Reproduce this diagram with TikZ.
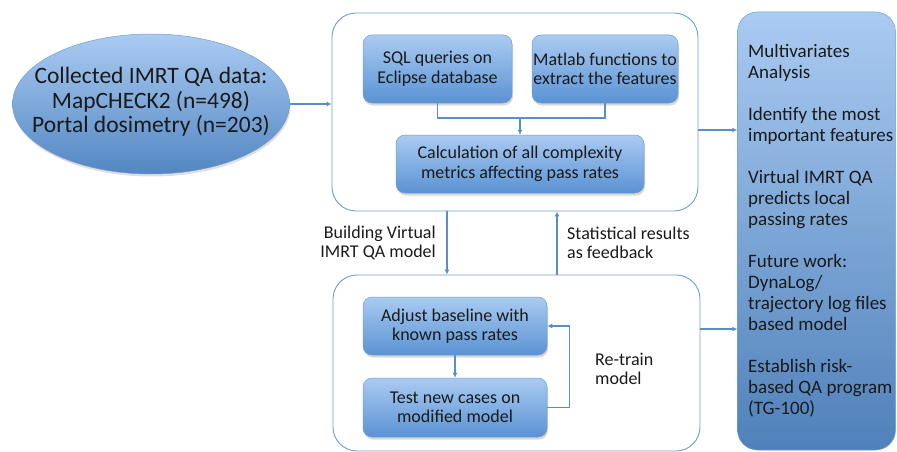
\documentclass[tikz,border=0pt]{standalone}
\usepackage{fontspec}
\setmainfont{Carlito}
\usetikzlibrary{shadows,arrows.meta,shapes.geometric}
\definecolor{bluetop}{HTML}{AACBF2}
\definecolor{bluebot}{HTML}{5A92D3}
\definecolor{edgeblue}{HTML}{6F9FD2}
\definecolor{arrblue}{HTML}{5B8DC8}
\definecolor{txt}{HTML}{1A1A1A}
\tikzset{
  blubox/.style={rounded corners=9pt, top color=bluetop, bottom color=bluebot, draw=edgeblue, line width=0.5pt,
    drop shadow={opacity=0.3, shadow xshift=1pt, shadow yshift=-2.5pt}, align=center,
    font=\fontsize{18}{19.5}\selectfont, text=txt, inner sep=0pt},
  container/.style={rounded corners=24pt, draw=edgeblue, line width=0.9pt, fill=white, inner sep=0pt},
  arrowline/.style={draw=arrblue, line width=1.3pt, -{Latex[length=5pt,width=5pt]}},
  plainline/.style={draw=arrblue, line width=1.3pt},
  lbl/.style={font=\fontsize{18}{19.5}\selectfont, text=txt, inner sep=0pt}
}
\begin{document}
\begin{tikzpicture}[x=1pt,y=-1pt]
\useasboundingbox (0,0) rectangle (897,452);
% left ellipse
\node[ellipse, minimum width=277pt, minimum height=140pt, top color=bluetop, bottom color=bluebot!92!black,
  draw=edgeblue, line width=0.5pt, drop shadow={opacity=0.25, shadow xshift=1pt, shadow yshift=-2.5pt},
  inner sep=0pt] (ell) at (151,104) {};
\node[align=center, font=\fontsize{23.5}{24.5}\selectfont, text=txt, inner sep=0pt] (elltxt) at (151,102)
  {Collected IMRT QA data:\\MapCHECK2 (n=498)\\Portal dosimetry (n=203)};
% containers
\node[container, minimum width=366pt, minimum height=198pt] (top) at (515,112) {};
\node[container, minimum width=367pt, minimum height=176pt] (bot) at (516.5,363) {};
% right box
\node[rounded corners=20pt, top color=bluetop, bottom color=bluebot!88!black, draw=edgeblue, line width=0.5pt,
  minimum width=158pt, minimum height=438pt, inner sep=0pt] (res) at (816.5,231) {};
\node[anchor=north west, align=left, font=\fontsize{19}{21}\selectfont, text=txt, inner sep=0pt] (restxt) at (748,44)
  {Multivariates\\Analysis\\[21pt]Identify the most\\important features\\[21pt]Virtual IMRT QA\\predicts local\\passing rates\\[21pt]Future work:\\DynaLog/\\trajectory log files\\based model\\[21pt]Establish risk-\\based QA program\\(TG-100)};
% inner boxes
\node[blubox, minimum width=149pt, minimum height=68pt] (sql) at (437.5,69) {SQL queries on\\Eclipse database};
\node[blubox, minimum width=146pt, minimum height=68pt] (mat) at (605,69) {Matlab functions to\\extract the features};
\node[blubox, minimum width=248pt, minimum height=58pt] (calc) at (520,164) {Calculation of all complexity\\metrics affecting pass rates};
\node[blubox, minimum width=184pt, minimum height=58pt] (adj) at (455,326) {Adjust baseline with\\known pass rates};
\node[blubox, minimum width=184pt, minimum height=59pt] (tst) at (455,407.5) {Test new cases on\\modified model};
% connectors
\coordinate (join) at (520,118);
\coordinate (dnx) at (447,0);
\coordinate (upx) at (557,0);
\draw[arrowline] (ell.east) -- (ell.east -| top.west);
\draw[plainline] (sql.south) |- (join) -| (mat.south);
\draw[arrowline] (join) -- (calc.north);
\draw[arrowline] ([yshift=-18pt]top.east) -- ([yshift=-18pt]top.east -| res.west);
\draw[arrowline] ([yshift=34pt]bot.east) -- ([yshift=34pt]bot.east -| res.west);
\draw[arrowline] (top.south -| dnx) -- (bot.north -| dnx);
\draw[arrowline] (bot.north -| upx) -- (top.south -| upx);
\draw[arrowline] (adj.south) -- (tst.north);
\draw[arrowline] (tst.east) -- ++(22,0) |- (adj.east);
% labels
\node[lbl, align=right, anchor=east] (lbuild) at (436,243) {Building Virtual\\IMRT QA model};
\node[lbl, align=left, anchor=west] (lstat) at (567,243) {Statistical results\\as feedback};
\node[lbl, align=left, anchor=west] (lre) at (595,369) {Re-train\\model};
\end{tikzpicture}
\end{document}
